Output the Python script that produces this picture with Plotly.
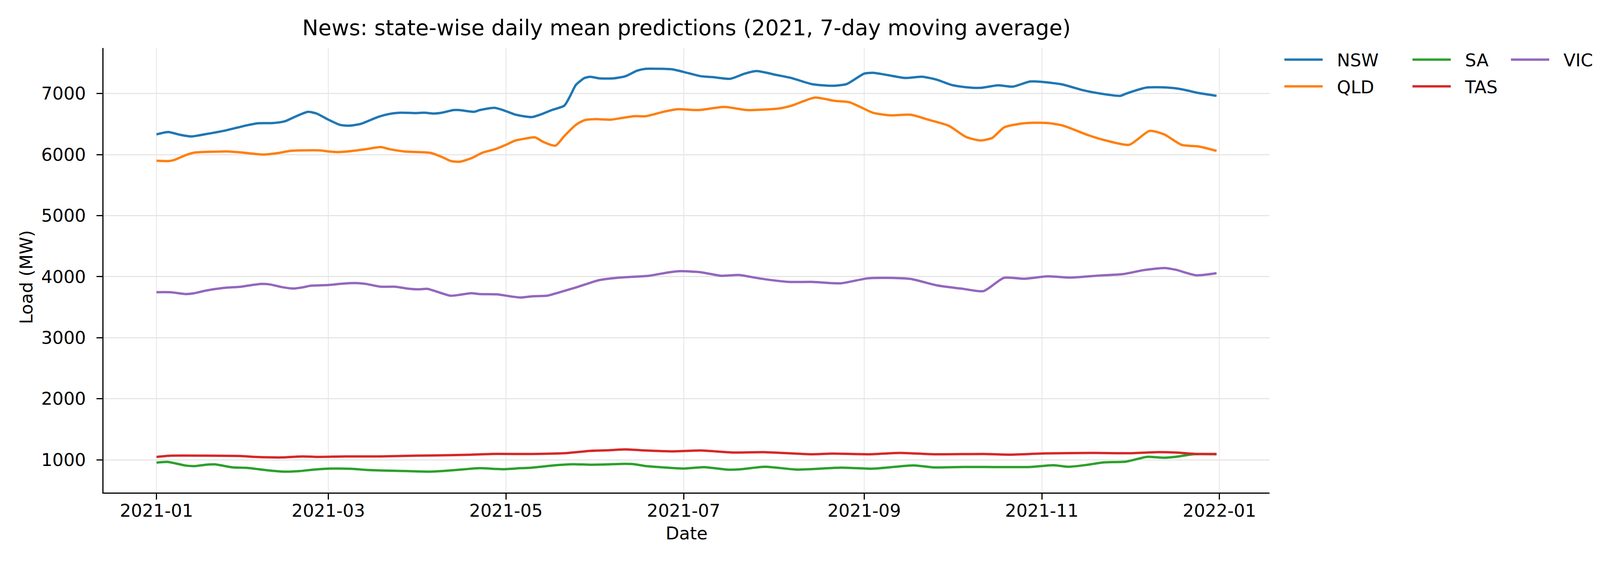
import pandas as pd
import plotly.graph_objects as go

START = "2021-01-01"

NSW_DAYS = [0, 4, 8, 12, 17, 23, 28, 31, 35, 40, 44, 48, 52, 55, 59, 63, 66, 70, 76, 80, 84, 89, 92, 95, 98,
            102, 104, 109, 111, 116, 119, 123, 126, 129, 132, 136, 140, 142, 144, 147, 149, 152, 157, 161, 165,
            168, 173, 177, 181, 187, 191, 197, 202, 206, 213, 218, 225, 232, 237, 243, 246, 251, 257, 263, 268,
            273, 278, 283, 289, 294, 300, 304, 311, 318, 325, 331, 333, 340, 347, 352, 358, 364]
NSW_VALUES = [6331, 6370, 6325, 6297, 6336, 6388, 6445, 6479, 6513, 6516, 6544, 6629, 6700, 6672, 6572, 6487,
              6473, 6501, 6615, 6666, 6686, 6680, 6686, 6672, 6686, 6729, 6729, 6700, 6729, 6766, 6729, 6658,
              6629, 6615, 6658, 6734, 6800, 6956, 7141, 7255, 7275, 7249, 7249, 7283, 7374, 7405, 7405, 7397,
              7354, 7283, 7269, 7241, 7326, 7368, 7303, 7255, 7155, 7127, 7155, 7326, 7340, 7303, 7255, 7275,
              7226, 7141, 7104, 7093, 7135, 7113, 7198, 7192, 7150, 7056, 6993, 6962, 6999, 7098, 7098, 7070,
              7007, 6962]

QLD_DAYS = [0, 4, 6, 10, 13, 19, 24, 29, 34, 37, 42, 46, 50, 56, 59, 62, 67, 72, 77, 80, 85, 90, 94, 98, 101,
            104, 108, 112, 116, 120, 123, 127, 130, 133, 137, 140, 144, 147, 151, 156, 160, 164, 168, 174, 179,
            186, 195, 203, 214, 218, 226, 233, 238, 246, 252, 259, 265, 272, 278, 283, 287, 291, 296, 301, 306,
            311, 320, 326, 334, 341, 346, 352, 358, 364]
QLD_VALUES = [5899, 5893, 5910, 5990, 6032, 6046, 6052, 6035, 6010, 6001, 6027, 6061, 6069, 6069, 6052, 6041,
              6058, 6089, 6123, 6089, 6052, 6041, 6029, 5961, 5896, 5882, 5938, 6032, 6084, 6160, 6226, 6265,
              6282, 6203, 6146, 6302, 6487, 6564, 6581, 6572, 6601, 6629, 6629, 6700, 6743, 6729, 6780, 6729,
              6757, 6800, 6933, 6879, 6857, 6686, 6643, 6652, 6572, 6473, 6288, 6231, 6274, 6444, 6501, 6521,
              6516, 6479, 6317, 6231, 6160, 6388, 6331, 6160, 6132, 6061]

SA_DAYS = [0, 4, 10, 13, 17, 20, 26, 31, 38, 44, 49, 53, 59, 67, 72, 77, 86, 94, 98, 106, 111, 119, 125, 129,
           137, 143, 149, 155, 161, 164, 168, 171, 181, 188, 196, 200, 209, 220, 235, 246, 260, 267, 277, 300,
           308, 313, 319, 325, 333, 340, 346, 351, 356, 364]
SA_VALUES = [953, 964, 905, 896, 919, 925, 876, 868, 828, 805, 814, 834, 854, 851, 834, 825, 814, 805, 814, 845,
             862, 845, 862, 871, 910, 927, 919, 925, 933, 927, 896, 885, 856, 879, 839, 842, 885, 839, 871, 854,
             908, 874, 882, 882, 910, 885, 913, 956, 970, 1047, 1033, 1055, 1090, 1090]

TAS_DAYS = [0, 5, 17, 29, 34, 43, 50, 55, 65, 77, 89, 101, 107, 115, 129, 140, 149, 155, 161, 168, 177, 187,
            198, 209, 225, 232, 245, 255, 267, 284, 293, 305, 322, 334, 343, 350, 357, 364]
TAS_VALUES = [1047, 1067, 1067, 1061, 1047, 1038, 1055, 1047, 1055, 1055, 1067, 1075, 1081, 1095, 1095, 1107,
              1146, 1155, 1169, 1152, 1138, 1152, 1118, 1124, 1090, 1101, 1090, 1112, 1090, 1095, 1084, 1104,
              1112, 1107, 1124, 1118, 1095, 1095]

VIC_DAYS = [0, 5, 10, 13, 17, 23, 29, 32, 36, 39, 43, 47, 50, 53, 59, 64, 69, 72, 77, 82, 86, 90, 93, 96, 101,
            104, 108, 111, 117, 121, 125, 129, 134, 138, 144, 149, 152, 158, 164, 169, 176, 180, 187, 194, 200,
            207, 217, 225, 235, 244, 251, 259, 268, 277, 284, 291, 298, 306, 314, 324, 332, 339, 346, 350, 357,
            364]
VIC_VALUES = [3745, 3744, 3715, 3729, 3772, 3815, 3835, 3857, 3880, 3872, 3829, 3806, 3823, 3852, 3863, 3886,
              3894, 3880, 3835, 3835, 3806, 3792, 3801, 3758, 3687, 3701, 3729, 3715, 3710, 3681, 3658, 3678,
              3687, 3738, 3823, 3900, 3943, 3980, 3999, 4014, 4071, 4090, 4071, 4014, 4028, 3971, 3914, 3914,
              3891, 3971, 3980, 3962, 3857, 3800, 3763, 3980, 3965, 4005, 3985, 4019, 4042, 4107, 4142, 4113,
              4022, 4056]

SERIES = [
    ("NSW", NSW_DAYS, NSW_VALUES, "#1f77b4", "legend"),
    ("QLD", QLD_DAYS, QLD_VALUES, "#ff7f0e", "legend"),
    ("SA", SA_DAYS, SA_VALUES, "#2ca02c", "legend2"),
    ("TAS", TAS_DAYS, TAS_VALUES, "#d62728", "legend2"),
    ("VIC", VIC_DAYS, VIC_VALUES, "#9467bd", "legend3"),
]

X_TICKS = ["2021-01-01", "2021-03-01", "2021-05-01", "2021-07-01", "2021-09-01", "2021-11-01", "2022-01-01"]
X_TICK_TEXT = ["2021-01", "2021-03", "2021-05", "2021-07", "2021-09", "2021-11", "2022-01"]
Y_TICKS = [1000, 2000, 3000, 4000, 5000, 6000, 7000]

FONT = "DejaVu Sans"
start = pd.Timestamp(START)

fig = go.Figure()
for name, days, vals, color, leg in SERIES:
    dates = [start + pd.Timedelta(days=d) for d in days]
    fig.add_trace(go.Scatter(
        x=dates, y=vals, mode="lines", name="\u2002\u2009" + name, legend=leg, legendgroup=name,
        line=dict(color=color, width=6, shape="spline", smoothing=0.6),
    ))

W, H = 4200, 1440
L, R, T, B = 257, 958, 115, 186
pw = W - L - R
ph = H - T - B

x_lo = start + pd.Timedelta(days=-18.2)
x_hi = start + pd.Timedelta(days=364 + 18.2)

legend_common = dict(
    font=dict(family=FONT, size=45, color="black"),
    bgcolor="rgba(0,0,0,0)", borderwidth=0,
    orientation="v", xanchor="left", yanchor="top",
    itemwidth=98, tracegroupgap=7,
)


def lx(px):
    return (px - L) / pw


def ly(py):
    return 1 - (py - T) / ph


fig.update_layout(
    width=W, height=H,
    margin=dict(l=L, r=R, t=T, b=B, pad=0),
    paper_bgcolor="white", plot_bgcolor="white",
    font=dict(family=FONT, color="black"),
    title=dict(
        text="News: state-wise daily mean predictions (2021, 7-day moving average)",
        font=dict(family=FONT, size=55, color="black"),
        x=0.5, xref="paper", xanchor="center",
        y=1 - 63 / H, yref="container", yanchor="middle",
    ),
    showlegend=True,
    legend=dict(x=lx(3275), y=ly(109), **legend_common),
    legend2=dict(x=lx(3603), y=ly(109), **legend_common),
    legend3=dict(x=lx(3855), y=ly(109), **legend_common),
    xaxis=dict(
        type="date", range=[x_lo, x_hi],
        tickmode="array", tickvals=X_TICKS, ticktext=X_TICK_TEXT,
        ticks="outside", ticklen=15, tickwidth=3, tickcolor="black",
        ticklabelstandoff=-10,
        tickfont=dict(family=FONT, size=45, color="black"),
        showline=True, linecolor="black", linewidth=3, mirror=False,
        showgrid=True, gridcolor="#ededed", gridwidth=3, zeroline=False,
    ),
    yaxis=dict(
        range=[463, 7746],
        tickmode="array", tickvals=Y_TICKS,
        ticks="outside", ticklen=15, tickwidth=3, tickcolor="black",
        ticklabelstandoff=18,
        tickfont=dict(family=FONT, size=45, color="black"),
        showline=True, linecolor="black", linewidth=3, mirror=False,
        showgrid=True, gridcolor="#e6e6e6", gridwidth=3, zeroline=False,
    ),
    annotations=[
        dict(text="Date", xref="paper", yref="paper", x=0.5, y=0, yshift=-(1358 - (T + ph)),
             xanchor="center", yanchor="middle", showarrow=False,
             font=dict(family=FONT, size=45, color="black")),
        dict(text="Load (MW)", xref="paper", yref="paper", x=0, y=0.5, xshift=59 - L, yshift=-18,
             xanchor="center", yanchor="middle", textangle=-90, showarrow=False,
             font=dict(family=FONT, size=45, color="black")),
    ],
)

fig.write_html("out.html")
